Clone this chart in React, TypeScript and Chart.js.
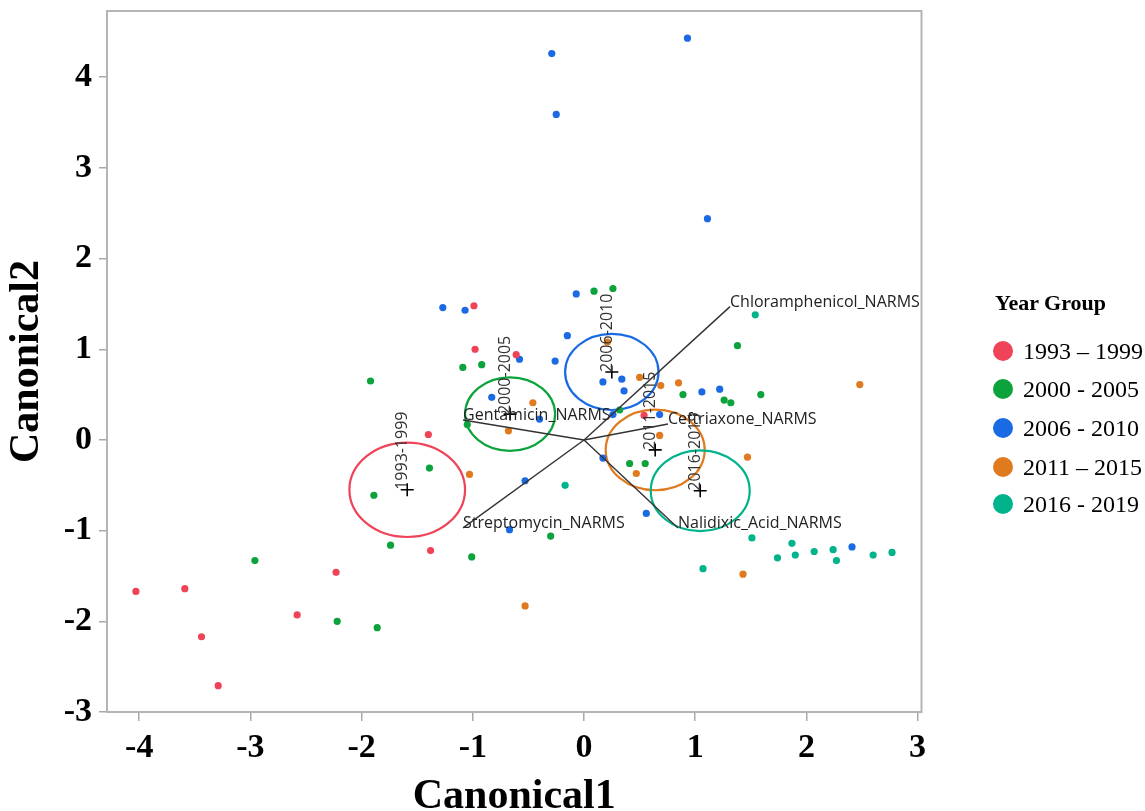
import React, { useEffect, useRef } from "react";
import { Chart, registerables } from "chart.js";

Chart.register(...registerables);

// ---------- data ----------
const groupLabels = ["1993 – 1999", "2000 - 2005", "2006 - 2010", "2011 – 2015", "2016 - 2019"];
const groupColors = ["#EF4358", "#0CA33D", "#1A6BE3", "#E07A1E", "#00B38A"];

const pts1993: number[][] = [
  [-4.03, -1.67], [-3.59, -1.64], [-3.44, -2.17], [-3.29, -2.71], [-2.58, -1.93],
  [-2.23, -1.46], [-1.38, -1.22], [-1.40, 0.06], [-0.99, 1.48], [-0.98, 1.00],
  [-0.61, 0.94], [0.54, 0.27],
];
const pts2000: number[][] = [
  [-1.92, 0.65], [-1.39, -0.31], [-1.89, -0.61], [-1.74, -1.16], [-2.96, -1.33],
  [-2.22, -2.00], [-1.86, -2.07], [-1.09, 0.80], [-0.92, 0.83], [-1.05, 0.17],
  [0.09, 1.64], [0.26, 1.67], [0.41, -0.26], [0.55, -0.26], [-0.30, -1.06],
  [-1.01, -1.29], [1.38, 1.04], [0.89, 0.50], [1.26, 0.44], [1.32, 0.41],
  [1.59, 0.50], [0.32, 0.33],
];
const pts2006: number[][] = [
  [-0.29, 4.26], [0.93, 4.43], [-0.25, 3.59], [1.11, 2.44], [-1.27, 1.46],
  [-1.07, 1.43], [-0.07, 1.61], [-0.15, 1.15], [-0.58, 0.89], [-0.26, 0.87],
  [-0.83, 0.47], [-0.40, 0.23], [0.17, 0.64], [0.34, 0.67], [0.36, 0.54],
  [0.26, 0.28], [0.68, 0.28], [1.06, 0.53], [1.22, 0.56], [0.56, -0.81],
  [-0.53, -0.45], [-0.67, -0.99], [0.17, -0.20], [2.41, -1.18],
];
const pts2011: number[][] = [
  [-0.46, 0.41], [-0.68, 0.10], [0.21, 1.08], [0.50, 0.69], [0.69, 0.60],
  [0.85, 0.63], [0.68, 0.05], [2.48, 0.61], [1.47, -0.19], [0.47, -0.37],
  [-1.03, -0.38], [1.43, -1.48], [-0.53, -1.83],
];
const pts2016: number[][] = [
  [-0.17, -0.50], [1.51, -1.08], [1.07, -1.42], [1.54, 1.38], [1.87, -1.14],
  [1.74, -1.30], [1.90, -1.27], [2.07, -1.23], [2.24, -1.21], [2.27, -1.33],
  [2.60, -1.27], [2.77, -1.24],
];
const groupPoints = [pts1993, pts2000, pts2006, pts2011, pts2016];

const centroidNames = ["1993-1999", "2000-2005", "2006-2010", "2011-2015", "2016-2019"];
const centroidX = [-1.59, -0.665, 0.25, 0.64, 1.045];
const centroidY = [-0.55, 0.285, 0.75, -0.11, -0.56];
const circleRadius = [0.52, 0.405, 0.42, 0.445, 0.445];

const rayNames = ["Chloramphenicol_NARMS", "Gentamicin_NARMS", "Ceftriaxone_NARMS", "Streptomycin_NARMS", "Nalidixic_Acid_NARMS"];
const rayX = [1.313, -1.088, 0.755, -1.088, 0.845];
const rayY = [1.47, 0.22, 0.176, -0.97, -0.97];

const xTicks = [-4, -3, -2, -1, 0, 1, 2, 3];
const yTicks = [-3, -2, -1, 0, 1, 2, 3, 4];
const xMin = -4.29, xMax = 3.035, yMin = -3, yMax = 4.73;

const SERIF = "'Liberation Serif', 'Times New Roman', serif";
const SANS = "'Open Sans', 'DejaVu Sans', sans-serif";

const overlayPlugin = {
  id: "biplotOverlay",
  beforeDatasetsDraw(chart: any) {
    const { ctx, scales } = chart;
    const xs = scales.x, ys = scales.y;
    ctx.save();
    for (let i = 0; i < centroidX.length; i++) {
      const cx = xs.getPixelForValue(centroidX[i]);
      const cy = ys.getPixelForValue(centroidY[i]);
      const rx = Math.abs(xs.getPixelForValue(centroidX[i] + circleRadius[i]) - cx);
      const ry = Math.abs(ys.getPixelForValue(centroidY[i] + circleRadius[i]) - cy);
      ctx.beginPath();
      ctx.ellipse(cx, cy, rx, ry, 0, 0, Math.PI * 2);
      ctx.strokeStyle = groupColors[i];
      ctx.lineWidth = 2.2;
      ctx.stroke();
    }
    ctx.restore();
  },
  afterDatasetsDraw(chart: any) {
    const { ctx, scales } = chart;
    const xs = scales.x, ys = scales.y;
    ctx.save();
    ctx.font = `16px ${SANS}`;
    ctx.fillStyle = "#222";
    ctx.textAlign = "left";
    ctx.textBaseline = "alphabetic";
    for (let i = 0; i < rayNames.length; i++) {
      ctx.fillText(rayNames[i], xs.getPixelForValue(rayX[i]), ys.getPixelForValue(rayY[i]));
    }
    for (let i = 0; i < centroidNames.length; i++) {
      ctx.save();
      ctx.translate(xs.getPixelForValue(centroidX[i]), ys.getPixelForValue(centroidY[i]));
      ctx.rotate(-Math.PI / 2);
      ctx.textAlign = "left";
      ctx.textBaseline = "alphabetic";
      ctx.fillStyle = "#333";
      ctx.fillText(centroidNames[i], 0, 0);
      ctx.restore();
    }
    ctx.restore();
  },
  afterDraw(chart: any) {
    const { ctx, chartArea } = chart;
    ctx.save();
    ctx.strokeStyle = "#b4b4b4";
    ctx.lineWidth = 2;
    ctx.strokeRect(chartArea.left, chartArea.top, chartArea.right - chartArea.left, chartArea.bottom - chartArea.top);
    ctx.restore();
  },
};

export default function App() {
  const canvasRef = useRef<HTMLCanvasElement | null>(null);

  useEffect(() => {
    if (!canvasRef.current) return;
    const datasets: any[] = [];
    datasets.push({
      label: "centroids",
      data: centroidX.map((x, i) => ({ x, y: centroidY[i] })),
      pointStyle: "cross",
      pointRadius: 6.5,
      borderColor: "#000",
      borderWidth: 1.6,
      backgroundColor: "#000",
    });
    rayNames.forEach((name, i) => {
      datasets.push({
        label: name,
        data: [{ x: 0, y: 0 }, { x: rayX[i], y: rayY[i] }],
        showLine: true,
        pointRadius: 0,
        borderColor: "#333",
        borderWidth: 1.4,
        fill: false,
      });
    });
    groupPoints.forEach((pts, i) => {
      datasets.push({
        label: groupLabels[i],
        data: pts.map(([x, y]) => ({ x, y })),
        pointRadius: 3.6,
        pointBorderWidth: 0,
        backgroundColor: groupColors[i],
        borderColor: groupColors[i],
        showLine: false,
      });
    });

    const chart = new Chart(canvasRef.current, {
      type: "scatter",
      data: { datasets },
      plugins: [overlayPlugin],
      options: {
        animation: false,
        responsive: false,
        layout: { padding: { top: 11, right: 223.5, left: 0, bottom: 0 } },
        plugins: { legend: { display: false }, tooltip: { enabled: false } },
        scales: {
          x: {
            type: "linear",
            min: xMin,
            max: xMax,
            afterBuildTicks: (s: any) => { s.ticks = xTicks.map((v) => ({ value: v })); },
            afterFit: (s: any) => { s.height = 99; s.paddingLeft = 0; s.paddingRight = 0; },
            grid: { drawOnChartArea: false, drawTicks: true, tickLength: 9, color: "#a8a8a8", lineWidth: 1.5 },
            border: { display: false },
            ticks: {
              autoSkip: false,
              maxRotation: 0,
              padding: 7,
              color: "#000",
              font: { family: SERIF, weight: "bold", size: 34 },
              callback: (v: any) => String(v),
            },
            title: {
              display: true,
              text: "Canonical1",
              color: "#000",
              padding: { top: 0, bottom: -5 },
              font: { family: SERIF, weight: "bold", size: 42, lineHeight: 0.9 },
            },
          },
          y: {
            type: "linear",
            min: yMin,
            max: yMax,
            afterBuildTicks: (s: any) => { s.ticks = yTicks.map((v) => ({ value: v })); },
            afterFit: (s: any) => { s.width = 107; s.paddingTop = 0; s.paddingBottom = 0; },
            grid: { drawOnChartArea: false, drawTicks: true, tickLength: 8, color: "#a8a8a8", lineWidth: 1.5 },
            border: { display: false },
            ticks: {
              autoSkip: false,
              padding: 7,
              color: "#000",
              font: { family: SERIF, weight: "bold", size: 34 },
              callback: (v: any) => String(v),
            },
            title: {
              display: true,
              text: "Canonical2",
              color: "#000",
              padding: { top: 8, bottom: 0 },
              font: { family: SERIF, weight: "bold", size: 42, lineHeight: 0.9 },
            },
          },
        },
      } as any,
    });
    return () => chart.destroy();
  }, []);

  const legendY = [351, 389, 428, 466.5, 504];

  return (
    <div style={{ position: "absolute", left: 0, top: 0, width: 1145, height: 811, background: "#fff", overflow: "hidden" }}>
      <canvas ref={canvasRef} width={1145} height={811} style={{ display: "block", width: 1145, height: 811 }} />
      <div
        style={{
          position: "absolute", left: 995, top: 289.5, fontFamily: SERIF, fontWeight: "bold",
          fontSize: 22, lineHeight: "26px", color: "#000", whiteSpace: "nowrap",
        }}
      >
        Year Group
      </div>
      {groupLabels.map((label, i) => (
        <React.Fragment key={label}>
          <div
            style={{
              position: "absolute", left: 993, top: legendY[i] - 10, width: 20, height: 20,
              borderRadius: "50%", background: groupColors[i],
            }}
          />
          <div
            style={{
              position: "absolute", left: 1023, top: legendY[i] - 14, fontFamily: SERIF,
              fontSize: 24, lineHeight: "28px", color: "#000", whiteSpace: "nowrap",
            }}
          >
            {label}
          </div>
        </React.Fragment>
      ))}
    </div>
  );
}
